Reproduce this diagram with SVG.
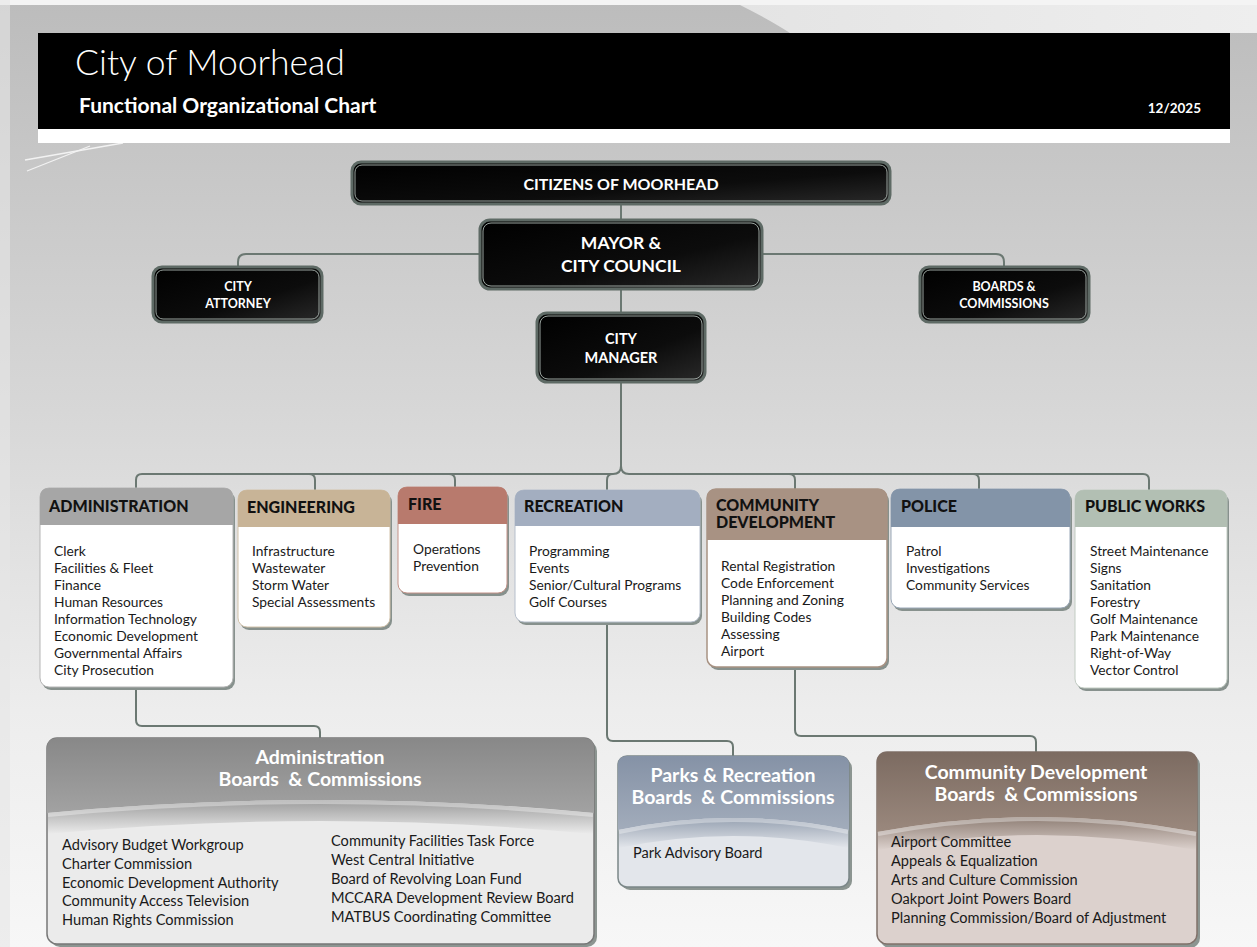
<svg xmlns="http://www.w3.org/2000/svg" width="1257" height="947" viewBox="0 0 1257 947">
<defs>
  <linearGradient id="bg" x1="0" y1="0" x2="0" y2="1">
    <stop offset="0" stop-color="#bcbcbc"/>
    <stop offset="0.16" stop-color="#c6c6c6"/>
    <stop offset="0.45" stop-color="#d8d8d8"/>
    <stop offset="0.75" stop-color="#ededed"/>
    <stop offset="1" stop-color="#f7f7f7"/>
  </linearGradient>
  <linearGradient id="swoosh" x1="0" y1="0" x2="1" y2="0">
    <stop offset="0" stop-color="#e4e4e4"/>
    <stop offset="1" stop-color="#eeeeee"/>
  </linearGradient>
  <linearGradient id="blk" x1="0" y1="0" x2="1" y2="1">
    <stop offset="0" stop-color="#000"/>
    <stop offset="0.6" stop-color="#0c0c0c"/>
    <stop offset="1" stop-color="#2a2a2a"/>
  </linearGradient>
  <linearGradient id="admHead" x1="0" y1="0" x2="0" y2="1">
    <stop offset="0" stop-color="#888"/>
    <stop offset="1" stop-color="#a2a2a2"/>
  </linearGradient>
  <linearGradient id="parkHead" x1="0" y1="0" x2="0" y2="1">
    <stop offset="0" stop-color="#8592a6"/>
    <stop offset="1" stop-color="#a2acbb"/>
  </linearGradient>
  <linearGradient id="cdHead" x1="0" y1="0" x2="0" y2="1">
    <stop offset="0" stop-color="#7c6b61"/>
    <stop offset="1" stop-color="#9a887d"/>
  </linearGradient>
  <linearGradient id="admFade" x1="0" y1="0" x2="0" y2="1">
    <stop offset="0" stop-color="#9b9b9b"/>
    <stop offset="1" stop-color="#ebebeb"/>
  </linearGradient>
  <linearGradient id="parkFade" x1="0" y1="0" x2="0" y2="1">
    <stop offset="0" stop-color="#96a1b1"/>
    <stop offset="1" stop-color="#e3e6eb"/>
  </linearGradient>
  <linearGradient id="cdFade" x1="0" y1="0" x2="0" y2="1">
    <stop offset="0" stop-color="#8e7e74"/>
    <stop offset="1" stop-color="#dcd1cd"/>
  </linearGradient>
</defs>
<style>
  text{font-family:Lato,"Liberation Sans",sans-serif}
  .top{fill:url(#blk);stroke:#5e6a65;stroke-width:3}
  .inner{fill:none;stroke:#9aa49f;stroke-width:1}
  .wt{fill:#fff;font-weight:700;text-anchor:middle}
  .conn{fill:none;stroke:#6b7872;stroke-width:2}
  .dh{font-weight:900;font-size:16px;fill:#111}
  .it{font-size:13.8px;fill:#1a1a1a}
  .shadow{fill:#87918d}
  .body{fill:#fff}
  .bt{fill:#fff;font-weight:700;font-size:19.5px;text-anchor:middle;white-space:pre}
  .bi{font-size:14.6px;fill:#1a1a1a}
  .arc{fill:none;stroke:#ffffff;stroke-opacity:0.35;stroke-width:4}
</style>

<!-- background -->
<rect x="0" y="0" width="1257" height="947" fill="url(#bg)"/>
<rect x="0" y="0" width="1257" height="5" fill="#f4f4f4"/>
<rect x="0" y="0" width="10" height="947" fill="#e6e6e6" opacity="0.6"/>
<path d="M740,5 H1257 V33 H790 Q770,20 740,5 Z" fill="url(#swoosh)"/>
<path d="M25,160 L123,143" stroke="#f2f2f2" stroke-width="1.5" fill="none"/>
<path d="M27,171 L90,146" stroke="#f2f2f2" stroke-width="1.2" fill="none"/>

<!-- header -->
<g id="header">
  <rect x="38" y="33" width="1192" height="96" fill="#000"/>
  <rect x="38" y="129" width="1192" height="14" fill="#fff"/>
  <text x="75" y="75" font-size="35.5" font-weight="300" fill="#fff">City of Moorhead</text>
  <text x="79" y="113" font-size="21" font-weight="700" fill="#fff">Functional Organizational Chart</text>
  <text x="1201" y="113" font-size="13.5" font-weight="700" fill="#fff" text-anchor="end">12/2025</text>
</g>

<!-- connectors -->
<g id="connectors" class="conn">
  <path d="M621,204 V220"/>
  <path d="M480,254 H246 Q238,254 238,262 V267"/>
  <path d="M762,254 H996 Q1004,254 1004,262 V267"/>
  <path d="M621,289 V313"/>
  <path d="M621,382 V466 Q621,474 613,474"/>
  <path d="M621,466 Q621,474 629,474"/>
  <path d="M136,488 V480 Q136,474 142,474 H613"/>
  <path d="M629,474 H1143 Q1149,474 1149,480 V490"/>
  <path d="M309,474 Q315,474 315,480 V490"/>
  <path d="M449,474 Q455,474 455,480 V487"/>
  <path d="M613,474 Q607,474 607,480 V490"/>
  <path d="M789,474 Q795,474 795,480 V489"/>
  <path d="M973,474 Q979,474 979,480 V489"/>
  <path d="M136,688 V720 Q136,726 142,726 H314 Q320,726 320,732 V738"/>
  <path d="M607,622 V735 Q607,741 613,741 H727 Q733,741 733,747 V756"/>
  <path d="M795,667 V730 Q795,736 801,736 H1030 Q1036,736 1036,742 V752"/>
</g>

<!-- top nodes -->
<g id="citizens">
  <rect class="top" x="352" y="162" width="538" height="42" rx="9"/>
  <rect class="inner" x="355" y="165" width="532" height="36" rx="7"/>
  <text class="wt" x="621" y="189.5" font-size="16">CITIZENS OF MOORHEAD</text>
</g>
<g id="mayor">
  <rect class="top" x="480" y="220" width="282" height="69" rx="10"/>
  <rect class="inner" x="483" y="223" width="276" height="63" rx="8"/>
  <text class="wt" x="621" y="249" font-size="17.5">MAYOR &amp;</text>
  <text class="wt" x="621" y="272" font-size="17.5">CITY COUNCIL</text>
</g>
<g id="attorney">
  <rect class="top" x="153" y="267" width="169" height="55" rx="9"/>
  <rect class="inner" x="156" y="270" width="163" height="49" rx="7"/>
  <text class="wt" x="238" y="291" font-size="12.5">CITY</text>
  <text class="wt" x="238" y="308" font-size="12.5">ATTORNEY</text>
</g>
<g id="boards">
  <rect class="top" x="920" y="267" width="169" height="55" rx="9"/>
  <rect class="inner" x="923" y="270" width="163" height="49" rx="7"/>
  <text class="wt" x="1004" y="291" font-size="12.5">BOARDS &amp;</text>
  <text class="wt" x="1004" y="308" font-size="12.5">COMMISSIONS</text>
</g>
<g id="manager">
  <rect class="top" x="537" y="313" width="168" height="69" rx="10"/>
  <rect class="inner" x="540" y="316" width="162" height="63" rx="8"/>
  <text class="wt" x="621" y="344" font-size="14.5">CITY</text>
  <text class="wt" x="621" y="363" font-size="14.5">MANAGER</text>
</g>

<!-- departments -->
<g id="administration">
  <rect class="shadow" x="42" y="491" width="193" height="199" rx="9"/>
  <rect class="body" x="40" y="488" width="193" height="199" rx="9" stroke="#b5b5b5" stroke-width="1"/>
  <path d="M40,525 V497 Q40,488 49,488 H224 Q233,488 233,497 V525 Z" fill="#a6a6a6"/>
  <text class="dh" x="49" y="512">ADMINISTRATION</text>
  <text class="it" x="54" y="556">Clerk</text>
  <text class="it" x="54" y="573">Facilities &amp; Fleet</text>
  <text class="it" x="54" y="590">Finance</text>
  <text class="it" x="54" y="607">Human Resources</text>
  <text class="it" x="54" y="624">Information Technology</text>
  <text class="it" x="54" y="641">Economic Development</text>
  <text class="it" x="54" y="658">Governmental Affairs</text>
  <text class="it" x="54" y="675">City Prosecution</text>
</g>
<g id="engineering">
  <rect class="shadow" x="240" y="493" width="152" height="137" rx="9"/>
  <rect class="body" x="238" y="490" width="152" height="137" rx="9" stroke="#d2c2aa" stroke-width="1"/>
  <path d="M238,527 V499 Q238,490 247,490 H381 Q390,490 390,499 V527 Z" fill="#c8b497"/>
  <text class="dh" x="247" y="513">ENGINEERING</text>
  <text class="it" x="252" y="556">Infrastructure</text>
  <text class="it" x="252" y="573">Wastewater</text>
  <text class="it" x="252" y="590">Storm Water</text>
  <text class="it" x="252" y="607">Special Assessments</text>
</g>
<g id="fire">
  <rect class="shadow" x="400" y="490" width="109" height="106" rx="9"/>
  <rect class="body" x="398" y="487" width="109" height="106" rx="9" stroke="#c49288" stroke-width="1"/>
  <path d="M398,524 V496 Q398,487 407,487 H498 Q507,487 507,496 V524 Z" fill="#b87a6d"/>
  <text class="dh" x="408" y="510">FIRE</text>
  <text class="it" x="413" y="554">Operations</text>
  <text class="it" x="413" y="571">Prevention</text>
</g>
<g id="recreation">
  <rect class="shadow" x="517" y="493" width="185" height="132" rx="9"/>
  <rect class="body" x="515" y="490" width="185" height="132" rx="9" stroke="#b6bfcc" stroke-width="1"/>
  <path d="M515,526 V499 Q515,490 524,490 H691 Q700,490 700,499 V526 Z" fill="#a3aec0"/>
  <text class="dh" x="524" y="512">RECREATION</text>
  <text class="it" x="529" y="556">Programming</text>
  <text class="it" x="529" y="573">Events</text>
  <text class="it" x="529" y="590">Senior/Cultural Programs</text>
  <text class="it" x="529" y="607">Golf Courses</text>
</g>
<g id="community-development">
  <rect class="shadow" x="709" y="492" width="180" height="178" rx="9"/>
  <rect class="body" x="707" y="489" width="180" height="178" rx="9" stroke="#a89283" stroke-width="1.5"/>
  <path d="M707,540 V498 Q707,489 716,489 H878 Q887,489 887,498 V540 Z" fill="#a89283"/>
  <text class="dh" x="716" y="511">COMMUNITY</text>
  <text class="dh" x="716" y="528">DEVELOPMENT</text>
  <text class="it" x="721" y="571">Rental Registration</text>
  <text class="it" x="721" y="588">Code Enforcement</text>
  <text class="it" x="721" y="605">Planning and Zoning</text>
  <text class="it" x="721" y="622">Building Codes</text>
  <text class="it" x="721" y="639">Assessing</text>
  <text class="it" x="721" y="656">Airport</text>
</g>
<g id="police">
  <rect class="shadow" x="893" y="492" width="179" height="119" rx="9"/>
  <rect class="body" x="891" y="489" width="179" height="119" rx="9" stroke="#9aa8b8" stroke-width="1"/>
  <path d="M891,527 V498 Q891,489 900,489 H1061 Q1070,489 1070,498 V527 Z" fill="#8394a8"/>
  <text class="dh" x="901" y="512">POLICE</text>
  <text class="it" x="906" y="556">Patrol</text>
  <text class="it" x="906" y="573">Investigations</text>
  <text class="it" x="906" y="590">Community Services</text>
</g>
<g id="public-works">
  <rect class="shadow" x="1077" y="493" width="152" height="198" rx="9"/>
  <rect class="body" x="1075" y="490" width="152" height="198" rx="9" stroke="#c2ccc3" stroke-width="1"/>
  <path d="M1075,527 V499 Q1075,490 1084,490 H1218 Q1227,490 1227,499 V527 Z" fill="#b2bfb3"/>
  <text class="dh" x="1085" y="512">PUBLIC WORKS</text>
  <text class="it" x="1090" y="556">Street Maintenance</text>
  <text class="it" x="1090" y="573">Signs</text>
  <text class="it" x="1090" y="590">Sanitation</text>
  <text class="it" x="1090" y="607">Forestry</text>
  <text class="it" x="1090" y="624">Golf Maintenance</text>
  <text class="it" x="1090" y="641">Park Maintenance</text>
  <text class="it" x="1090" y="658">Right-of-Way</text>
  <text class="it" x="1090" y="675">Vector Control</text>
</g>

<!-- boards & commissions -->
<g id="admin-boards">
  <rect x="50" y="741" width="547" height="206" rx="10" fill="#8c9591"/>
  <rect x="47" y="738" width="547" height="206" rx="10" fill="#ebebeb" stroke="#777" stroke-width="1.5"/>
  <path d="M48,813 Q320,787 593,813 V834 Q320,808 48,834 Z" fill="url(#admFade)"/>
  <path d="M47,813 V748 Q47,738 57,738 H584 Q594,738 594,748 V813 Q320,787 47,813 Z" fill="url(#admHead)"/>
  <path class="arc" d="M48,815 Q320,789 593,815"/>
  <text class="bt" x="320" y="764">Administration</text>
  <text class="bt" x="320" y="786">Boards  &amp; Commissions</text>
  <text class="bi" x="62" y="850">Advisory Budget Workgroup</text>
  <text class="bi" x="62" y="869">Charter Commission</text>
  <text class="bi" x="62" y="888">Economic Development Authority</text>
  <text class="bi" x="62" y="906">Community Access Television</text>
  <text class="bi" x="62" y="925">Human Rights Commission</text>
  <text class="bi" x="331" y="846">Community Facilities Task Force</text>
  <text class="bi" x="331" y="865">West Central Initiative</text>
  <text class="bi" x="331" y="884">Board of Revolving Loan Fund</text>
  <text class="bi" x="331" y="903">MCCARA Development Review Board</text>
  <text class="bi" x="331" y="922">MATBUS Coordinating Committee</text>
</g>
<g id="parks-boards">
  <rect x="621" y="759" width="231" height="131" rx="9" fill="#8c9591"/>
  <rect x="618" y="756" width="231" height="131" rx="9" fill="#e3e6eb" stroke="#7b8788" stroke-width="1.5"/>
  <path d="M619,830 Q733,806 848,830 V848 Q733,824 619,848 Z" fill="url(#parkFade)"/>
  <path d="M618,830 V765 Q618,756 627,756 H840 Q849,756 849,765 V830 Q733,806 618,830 Z" fill="url(#parkHead)"/>
  <path class="arc" d="M619,832 Q733,808 848,832"/>
  <text class="bt" x="733" y="782">Parks &amp; Recreation</text>
  <text class="bt" x="733" y="804">Boards  &amp; Commissions</text>
  <text class="bi" x="633" y="858">Park Advisory Board</text>
</g>
<g id="cd-boards">
  <rect x="880" y="755" width="320" height="193" rx="10" fill="#8c9591"/>
  <rect x="877" y="752" width="320" height="192" rx="10" fill="#dcd1cd" stroke="#80716a" stroke-width="1.5"/>
  <path d="M878,832 Q1037,802 1196,832 V850 Q1037,820 878,850 Z" fill="url(#cdFade)"/>
  <path d="M877,832 V762 Q877,752 887,752 H1187 Q1197,752 1197,762 V832 Q1037,802 877,832 Z" fill="url(#cdHead)"/>
  <path class="arc" d="M878,834 Q1037,804 1196,834"/>
  <text class="bt" x="1036" y="779">Community Development</text>
  <text class="bt" x="1036" y="801">Boards  &amp; Commissions</text>
  <text class="bi" x="891" y="847">Airport Committee</text>
  <text class="bi" x="891" y="866">Appeals &amp; Equalization</text>
  <text class="bi" x="891" y="885">Arts and Culture Commission</text>
  <text class="bi" x="891" y="904">Oakport Joint Powers Board</text>
  <text class="bi" x="891" y="923">Planning Commission/Board of Adjustment</text>
</g>
</svg>
